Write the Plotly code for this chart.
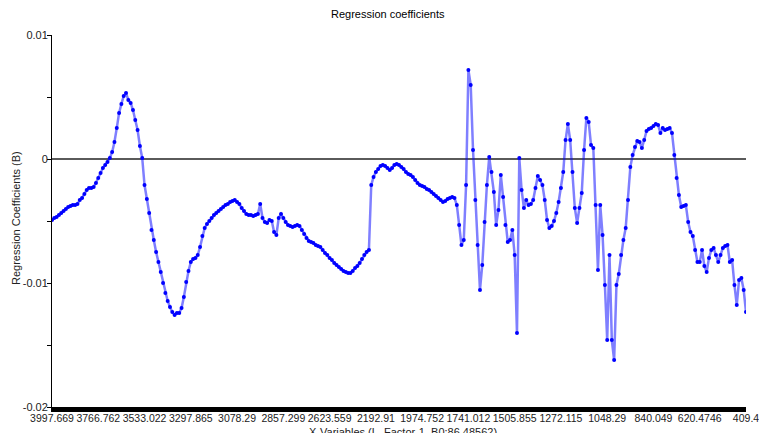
import plotly.graph_objects as go

# Regression coefficients (B) per X-variable (index order, left to right)
coef = [
    -0.00492, -0.00476, -0.00468, -0.00452, -0.00435, -0.00419, -0.00403, -0.00387, -0.00379, -0.00371,
    -0.00371, -0.00363, -0.00331, -0.00315, -0.00282, -0.00250, -0.00234, -0.00234, -0.00226, -0.00194,
    -0.00153, -0.00113, -0.00073, -0.00048, -0.00024, 0.00008, 0.00056, 0.00137, 0.00250, 0.00371,
    0.00444, 0.00508, 0.00532, 0.00476, 0.00452, 0.00395, 0.00315, 0.00234, 0.00105, 0.00008,
    -0.00210, -0.00323, -0.00435, -0.00573, -0.00653, -0.00750, -0.00831, -0.00911, -0.01000, -0.01081,
    -0.01145, -0.01194, -0.01234, -0.01258, -0.01242, -0.01242, -0.01202, -0.01113, -0.00992, -0.00903,
    -0.00831, -0.00806, -0.00798, -0.00774, -0.00710, -0.00621, -0.00556, -0.00524, -0.00500, -0.00476,
    -0.00452, -0.00435, -0.00419, -0.00403, -0.00387, -0.00371, -0.00363, -0.00347, -0.00339, -0.00331,
    -0.00347, -0.00363, -0.00395, -0.00419, -0.00444, -0.00452, -0.00452, -0.00460, -0.00452, -0.00444,
    -0.00363, -0.00476, -0.00508, -0.00516, -0.00492, -0.00500, -0.00589, -0.00613, -0.00476, -0.00444,
    -0.00476, -0.00508, -0.00532, -0.00540, -0.00548, -0.00540, -0.00532, -0.00540, -0.00573, -0.00605,
    -0.00637, -0.00661, -0.00669, -0.00677, -0.00694, -0.00702, -0.00710, -0.00734, -0.00758, -0.00774,
    -0.00798, -0.00815, -0.00839, -0.00855, -0.00871, -0.00887, -0.00903, -0.00911, -0.00919, -0.00919,
    -0.00903, -0.00879, -0.00863, -0.00839, -0.00806, -0.00774, -0.00750, -0.00734, -0.00210, -0.00145,
    -0.00105, -0.00081, -0.00056, -0.00048, -0.00056, -0.00073, -0.00089, -0.00073, -0.00048, -0.00040,
    -0.00048, -0.00065, -0.00081, -0.00105, -0.00121, -0.00129, -0.00145, -0.00169, -0.00194, -0.00210,
    -0.00218, -0.00226, -0.00242, -0.00250, -0.00266, -0.00282, -0.00298, -0.00315, -0.00331, -0.00347,
    -0.00339, -0.00323, -0.00315, -0.00306, -0.00315, -0.00371, -0.00532, -0.00694, -0.00653, -0.00210,
    0.00718, 0.00597, 0.00073, -0.00331, -0.00694, -0.01056, -0.00855, -0.00508, -0.00210, 0.00016,
    -0.00105, -0.00266, -0.00532, -0.00411, -0.00129, -0.00306, -0.00532, -0.00669, -0.00653, -0.00573,
    -0.00774, -0.01403, 0.00008, -0.00250, -0.00395, -0.00331, -0.00371, -0.00363, -0.00331, -0.00234,
    -0.00137, -0.00169, -0.00210, -0.00331, -0.00492, -0.00556, -0.00540, -0.00500, -0.00435, -0.00347,
    -0.00234, -0.00105, 0.00153, 0.00282, 0.00153, -0.00105, -0.00395, -0.00516, -0.00395, -0.00274,
    0.00073, 0.00331, 0.00298, 0.00113, 0.00089, -0.00371, -0.00895, -0.00371, -0.00613, -0.01016,
    -0.01460, -0.00774, -0.01460, -0.01621, -0.01016, -0.00927, -0.00774, -0.00653, -0.00556, -0.00331,
    -0.00065, 0.00032, 0.00097, 0.00145, 0.00137, 0.00089, 0.00153, 0.00226, 0.00242, 0.00250,
    0.00266, 0.00282, 0.00274, 0.00210, 0.00250, 0.00234, 0.00242, 0.00250, 0.00210, 0.00032,
    -0.00153, -0.00290, -0.00387, -0.00379, -0.00371, -0.00508, -0.00589, -0.00621, -0.00734, -0.00831,
    -0.00831, -0.00734, -0.00863, -0.00911, -0.00798, -0.00734, -0.00718, -0.00774, -0.00831, -0.00774,
    -0.00718, -0.00702, -0.00694, -0.00831, -0.00815, -0.01016, -0.01177, -0.00976, -0.00960, -0.01056,
    -0.01234,
]

tick_labels = ["3997.669", "3766.762", "3533.022", "3297.865", "3078.29", "2857.299",
               "2623.559", "2192.91", "1974.752", "1741.012", "1505.855", "1272.115",
               "1048.29", "840.049", "620.4746", "409.4"]
tick_step = 20
var_index = list(range(len(coef)))
tick_pos = [k * tick_step for k in range(len(tick_labels))]

y_ticks = [0.01, 0, -0.01, -0.02]
y_tick_text = ["0.01", "0", "-0.01", "-0.02"]

FONT = "Liberation Sans, Arial, sans-serif"

W, H = 759, 433
ML, MR, MT, MB = 52, 13, 35, 26

fig = go.Figure()
fig.add_trace(go.Scatter(
    x=var_index, y=coef, mode="lines+markers",
    line=dict(color="rgba(0,0,255,0.5)", width=2.5),
    marker=dict(color="#0000ff", size=4, line=dict(width=0)),
    hoverinfo="skip", showlegend=False,
))

fig.update_layout(
    width=W, height=H,
    margin=dict(l=ML, r=MR, t=MT, b=MB),
    paper_bgcolor="white", plot_bgcolor="white",
    font=dict(family=FONT, size=11, color="#222"),
    xaxis=dict(
        range=[0, len(coef) - 1], tickvals=tick_pos, ticktext=tick_labels,
        tickangle=0, ticklabeloverflow="allow", ticklabelstandoff=-3,
        showgrid=False, zeroline=False, showline=True, linecolor="black", linewidth=5,
        ticks="", tickfont=dict(size=10.5, color="#222"), automargin=False,
    ),
    yaxis=dict(
        range=[-0.02, 0.01], tickvals=y_ticks, ticktext=y_tick_text,
        showgrid=False, zeroline=True, zerolinecolor="#5a5a5a", zerolinewidth=1.5,
        showline=True, linecolor="black", linewidth=1,
        ticks="outside", ticklen=4, tickcolor="black", ticklabelstandoff=-3,
        minor=dict(tickvals=[0.005, -0.005, -0.015], ticks="outside", ticklen=4, tickcolor="black"),
        tickfont=dict(size=11, color="#222"), automargin=False,
    ),
)

pw, ph = W - ML - MR, H - MT - MB


def px(xp):
    return (xp - ML) / pw


def py(yp):
    return (H - MB - yp) / ph


fig.add_annotation(text="Regression coefficients", x=px(388), y=py(14), xref="paper", yref="paper",
                   xanchor="center", yanchor="middle",
                   showarrow=False, font=dict(size=11, color="black"))
fig.add_annotation(text="Regression Coefficients (B)", x=px(16), y=py(218), xref="paper", yref="paper",
                   xanchor="center", yanchor="middle",
                   showarrow=False, textangle=-90, font=dict(size=11, color="#222"))
fig.add_annotation(text="X-Variables (L, Factor-1, B0:86.48562)", x=px(403), y=py(432), xref="paper",
                   yref="paper", xanchor="center", yanchor="middle",
                   showarrow=False, font=dict(size=11, color="#222"))

fig.write_html("out.html")
